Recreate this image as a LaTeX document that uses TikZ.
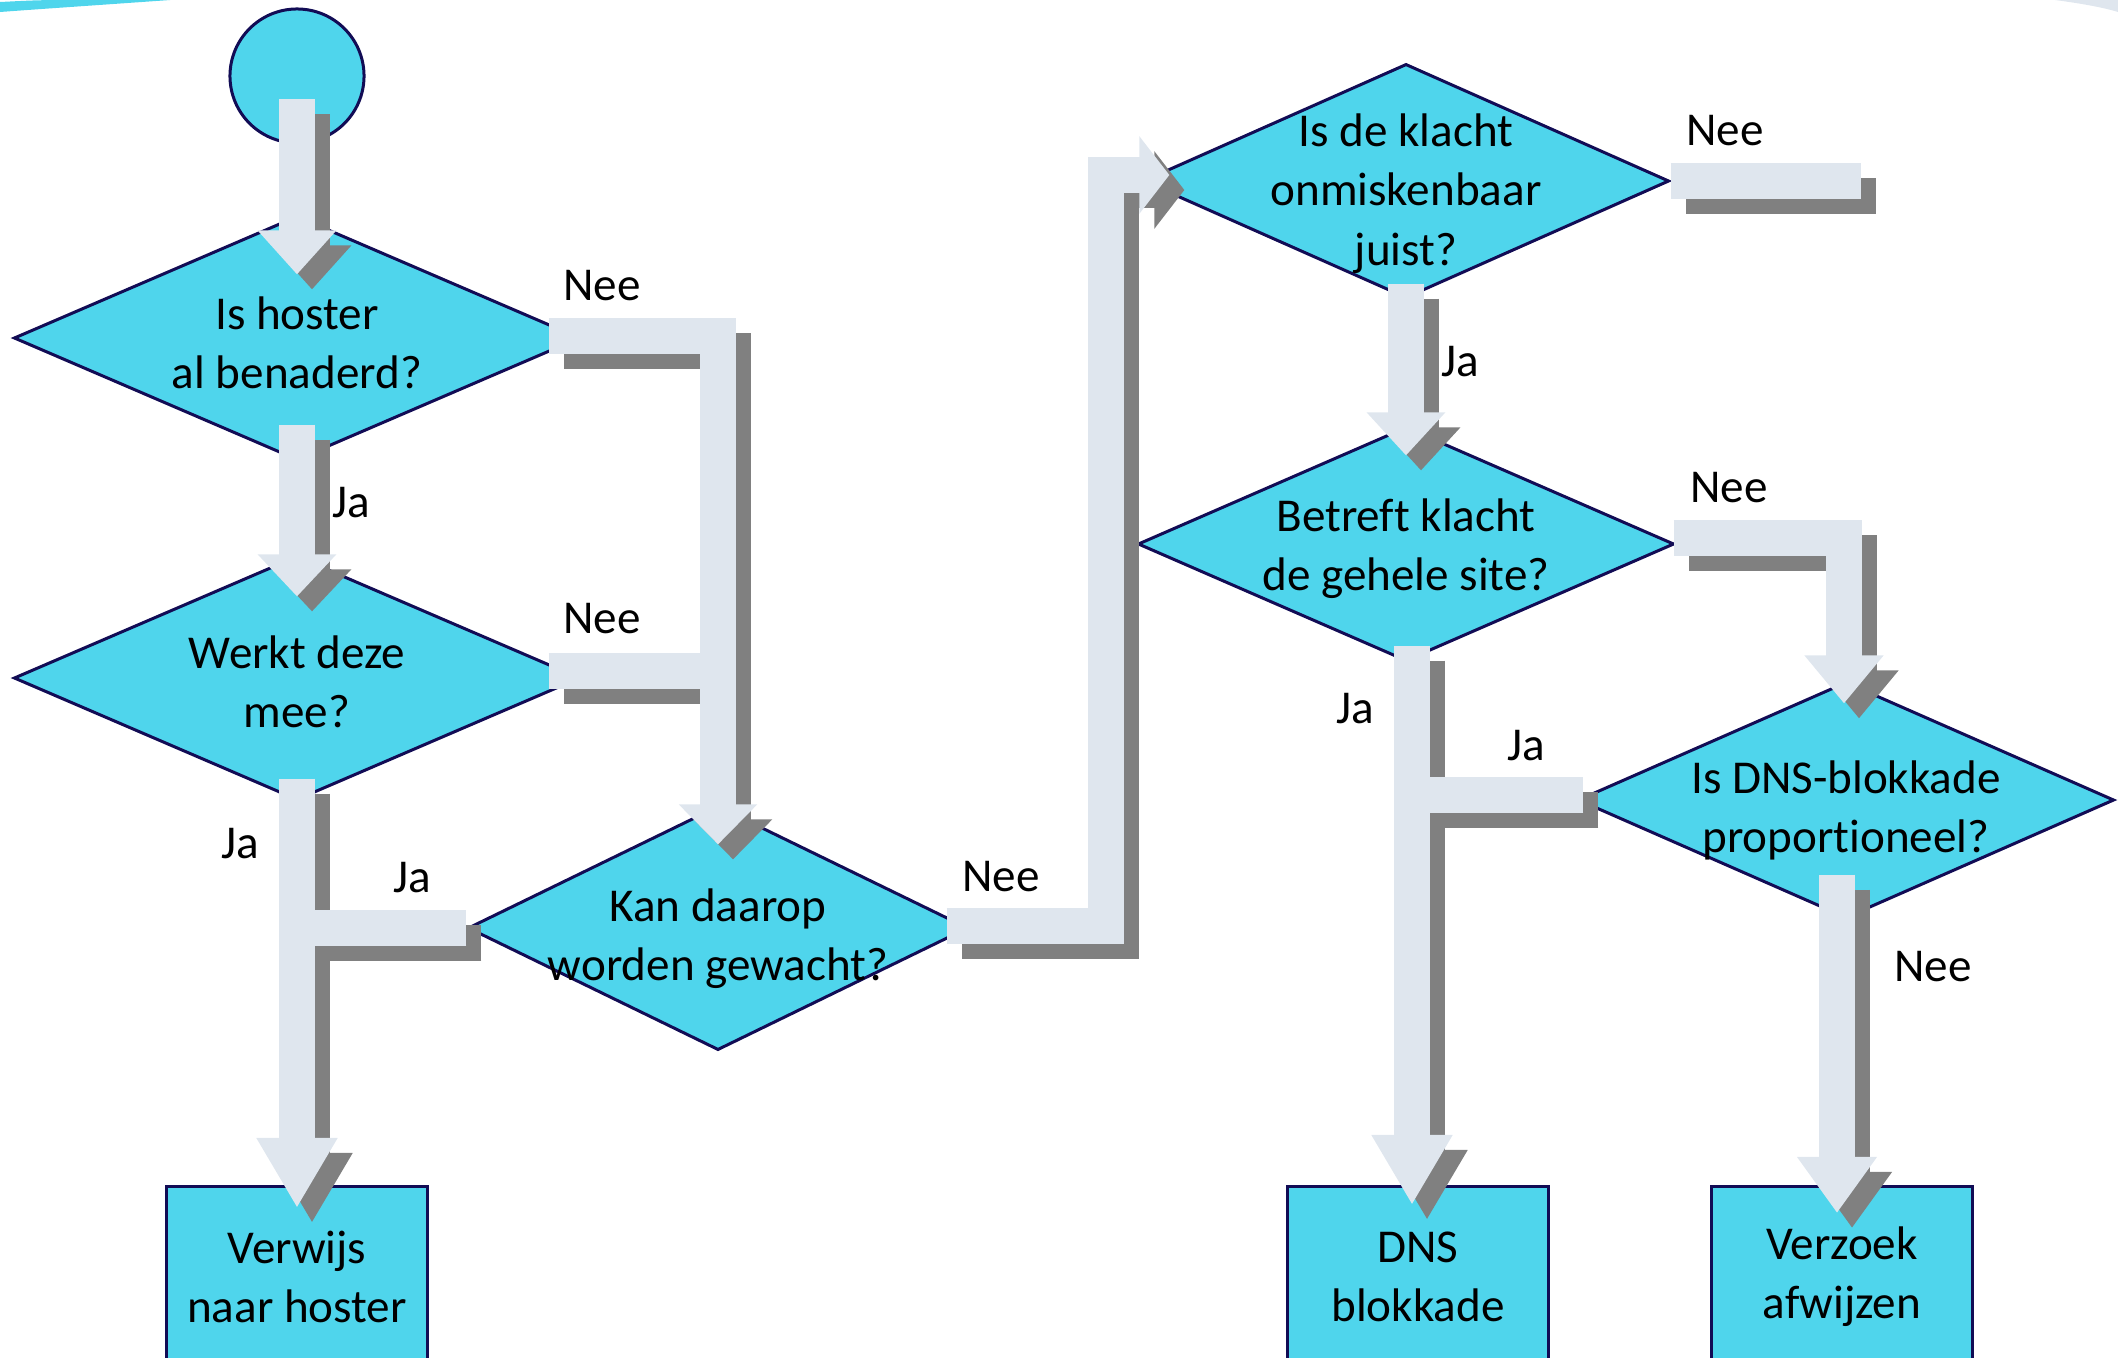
\documentclass[tikz,border=0pt]{standalone}
\usepackage{fontspec}
\setmainfont{Carlito}[Ligatures={NoCommon}]
\usetikzlibrary{shapes.geometric,arrows.meta,calc}

\definecolor{cyaan}{HTML}{4FD5EC}
\definecolor{rand}{HTML}{120C55}
\definecolor{pijlblauw}{HTML}{DFE6EE}
\definecolor{schaduwgrijs}{HTML}{808080}
\newcommand{\tekst}{\fontsize{13.4}{16.8}\selectfont}

\tikzset{
  vorm/.style={draw=rand, fill=cyaan, line width=0.03cm, align=center, font=\tekst},
  beslis/.style={vorm, diamond, inner sep=-3cm, text height=1.01cm, minimum width=5.66cm, minimum height=2.44cm},
  actie/.style={vorm, rectangle, anchor=north, minimum width=2.6cm, minimum height=1.8cm},
  etiket/.style={font=\tekst, inner sep=0pt},
  baan/.style={draw=pijlblauw, line width=3.6mm},
  schaduw/.style={draw=schaduwgrijs, line width=3.6mm, transform canvas={shift={(1.5mm,-1.5mm)}}},
  kop/.style={-{Triangle[width=7.6mm,length=#1]}}
}

\begin{document}
\begin{tikzpicture}[x=0.01cm,y=-0.01cm]
\useasboundingbox (0,0) rectangle (2118,1357);

% randjes van de dia
\fill[cyaan] (0,2) .. controls (40,0) .. (90,0) -- (170,0) .. controls (100,5) and (40,9) .. (0,12) -- cycle;
\fill[pijlblauw] (2055,0) .. controls (2085,4) and (2105,8) .. (2118,12) -- (2118,0) -- cycle;

% vragen en acties
\node[vorm, circle, minimum size=1.34cm, inner sep=0pt] (start) at (297,76) {};
\node[beslis] (d1) at (297,338) {Is hoster\\al benaderd?};
\node[beslis, text height=0.99cm] (d2) at (297,678) {Werkt deze\\mee?};
\node[beslis, minimum width=5cm, text height=1.13cm] (kan) at (718,928) {Kan daarop\\worden gewacht?};
\node[beslis, minimum width=5.26cm, minimum height=2.34cm, text height=1.76cm] (d3) at (1406,181) {Is de klacht\\onmiskenbaar\\juist?};
\node[beslis, minimum width=5.36cm, minimum height=2.34cm] (d4) at (1406,544) {Betreft klacht\\de gehele site?};
\node[beslis, minimum width=5.36cm, minimum height=2.36cm, text height=1.13cm] (d5) at (1846,800) {Is DNS-blokkade\\proportioneel?};
\node[actie] (verwijs) at (297,1185) {Verwijs\\naar hoster};
\node[actie] (dns) at (1418,1185) {DNS\\blokkade};
\node[actie] (afwijzen) at (1842,1185) {Verzoek\\afwijzen};
\coordinate (nee3) at (1861,181);

% pijlen: eerst alle schaduwen, dan de banen
\foreach \laag in {schaduw,baan}{
  \draw[\laag, kop=4.4mm] ($(start)+(0,23)$) -- ($(d1.north)+(0,60)$);
  \draw[\laag, kop=4.2mm] ($(d1.south)+(0,-37)$) -- ($(d2.north)+(0,42)$);
  \draw[\laag, kop=7mm] ($(d2.south)+(0,-23)$) -- ($(verwijs.north)+(0,23)$);
  \draw[\laag, kop=4mm] ($(d1.east)+(-33,-2)$) -| ($(kan.north)+(0,40)$);
  \draw[\laag] ($(d2.east)+(-33,-7)$) -- ($(d2.east -| kan.north)+(0,-7)$);
  \draw[\laag] (kan.west) -- (kan.west -| verwijs.north);
  \draw[\laag, kop=3mm] ($(kan.east)+(-23,-2)$) -| ($(d3.west)+(-35,-6)$) -- ($(d3.west)+(28,-6)$);
  \draw[\laag] (d3.east) -- (nee3);
  \draw[\laag, kop=4.3mm] ($(d3.south)+(0,-16)$) -- ($(d4.north)+(0,30)$);
  \draw[\laag, kop=4.8mm] ($(d4.east)+(-2,-6)$) -| ($(d5.north)+(-2,23)$);
  \draw[\laag, kop=7mm] ($(d4.south)+(6,-17)$) -- ($(dns.north)+(-6,20)$);
  \draw[\laag] ($(d5.west)+(7,-5)$) -- ($(d5.west -| dns.north)+(-6,-5)$);
  \draw[\laag, kop=5.6mm] ($(d5.south)+(-9,-45)$) -- ($(afwijzen.north)+(-5,28)$);
}

% ja/nee
\node[etiket] (nee1) at (602,286) {Nee};
\node[etiket] (ja1) at (351,503) {Ja};
\node[etiket] (nee2) at (602,619) {Nee};
\node[etiket] (ja2) at (240,844) {Ja};
\node[etiket] (jakan) at (412,878) {Ja};
\node[etiket] (neekan) at (1001,877) {Nee};
\node[etiket] (need3) at (1725,131) {Nee};
\node[etiket] (jad3) at (1460,362) {Ja};
\node[etiket] (need4) at (1729,488) {Nee};
\node[etiket] (jad4) at (1355,709) {Ja};
\node[etiket] (jad5) at (1526,746) {Ja};
\node[etiket] (need5) at (1933,967) {Nee};
\end{tikzpicture}
\end{document}
